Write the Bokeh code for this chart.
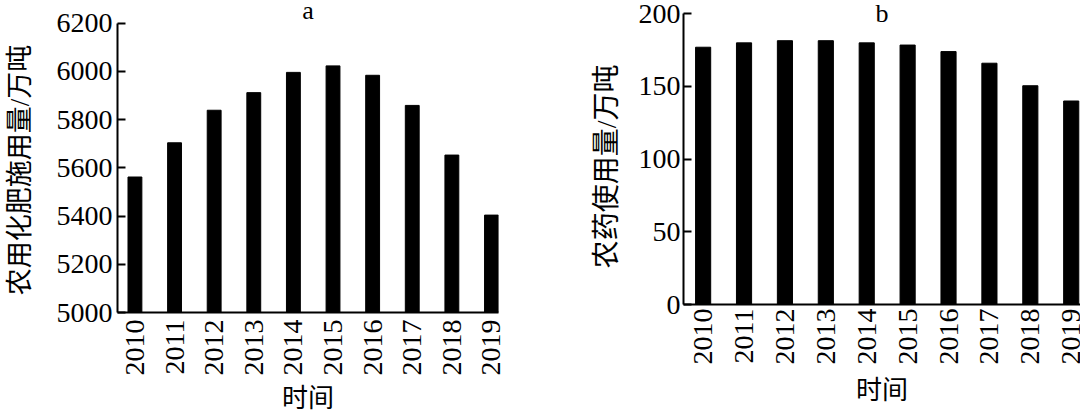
from math import pi
from bokeh.plotting import figure
from bokeh.models import Range1d, FixedTicker, Label
from bokeh.layouts import row
from bokeh.embed import file_html
from bokeh.resources import INLINE

years = [2010, 2011, 2012, 2013, 2014, 2015, 2016, 2017, 2018, 2019]
year_labels = ["2010", "2011", "2012", "2013", "2014", "2015", "2016", "2017", "2018", "2019"]
fertilizer = [5562, 5704, 5839, 5912, 5996, 6023, 5984, 5859, 5653, 5404]
pesticide = [177, 180, 181.5, 181.5, 180, 178.5, 174, 166, 150.5, 140]
fert_ticks = [5000, 5200, 5400, 5600, 5800, 6000, 6200]
pest_ticks = [0, 50, 100, 150, 200]
titles = ["a", "b"]
ylabels = ["农用化肥施用量/万吨", "农药使用量/万吨"]
xlabel = "时间"

SERIF = "Liberation Serif"
MIXED = "Liberation Serif, Noto Sans CJK SC"


def style(p, yticks, ybounds, ylabel, ylab_size, ylab_standoff, ytick_standoff,
          xlab_standoff, xtick_standoff):
    p.xgrid.visible = False
    p.ygrid.visible = False
    p.outline_line_color = None
    p.background_fill_color = "white"
    p.border_fill_color = "white"
    xa = p.xaxis[0]
    xa.ticker = FixedTicker(ticks=years)
    xa.major_label_overrides = {y: l for y, l in zip(years, year_labels)}
    xa.major_label_orientation = pi / 2
    xa.major_tick_out = 0
    xa.major_tick_in = 0
    xa.minor_tick_out = 0
    xa.minor_tick_in = 0
    xa.axis_line_width = 2
    xa.axis_line_color = "black"
    xa.major_label_text_font = SERIF
    xa.major_label_text_font_size = "28px"
    xa.major_label_text_color = "black"
    xa.major_label_standoff = xtick_standoff
    xa.axis_label = xlabel
    xa.axis_label_text_font = MIXED
    xa.axis_label_text_font_size = "26px"
    xa.axis_label_text_font_style = "normal"
    xa.axis_label_text_color = "black"
    xa.axis_label_standoff = xlab_standoff

    ya = p.yaxis[0]
    ya.ticker = FixedTicker(ticks=yticks)
    ya.bounds = ybounds
    ya.major_tick_in = 8
    ya.major_tick_out = 0
    ya.minor_tick_in = 0
    ya.minor_tick_out = 0
    ya.major_tick_line_width = 2
    ya.major_tick_line_color = "black"
    ya.axis_line_width = 2
    ya.axis_line_color = "black"
    ya.major_label_text_font = SERIF
    ya.major_label_text_font_size = "28px"
    ya.major_label_text_color = "black"
    ya.major_label_standoff = ytick_standoff
    # ideographic space keeps the label centred where the original sits
    ya.axis_label = ylabel + "\u3000"
    ya.axis_label_text_font = MIXED
    ya.axis_label_text_font_size = ylab_size
    ya.axis_label_text_font_style = "normal"
    ya.axis_label_text_color = "black"
    ya.axis_label_standoff = ylab_standoff


def add_title(p, x, y, text):
    p.add_layout(Label(x=x, y=y, text=text, text_align="center",
                       text_baseline="middle", text_font=SERIF, text_font_size="26px",
                       text_color="black"))


# Panel a
xa0, xa1 = 2009.56, 2019.177
pa = figure(width=560, height=415, output_backend="svg", toolbar_location=None,
            x_range=Range1d(xa0, xa1), y_range=Range1d(5000, 6294.2),
            min_border_left=117, min_border_right=62, min_border_top=0, min_border_bottom=103)
pa.vbar(x=years, top=fertilizer, bottom=5000, width=0.35, fill_color="black", line_color="black")
style(pa, fert_ticks, (5000, 6200), ylabels[0], "27px", 19, 5, 5, 7)
add_title(pa, (xa0 + xa1) / 2, 6253, titles[0])

# Panel b
xb0, xb1 = 2009.52, 2019.227
pb = figure(width=520, height=407, output_backend="svg", toolbar_location=None,
            x_range=Range1d(xb0, xb1), y_range=Range1d(0, 209.15),
            min_border_left=123, min_border_right=0, min_border_top=0, min_border_bottom=103)
pb.vbar(x=years, top=pesticide, bottom=0, width=0.37, fill_color="black", line_color="black")
style(pb, pest_ticks, (0, 200), ylabels[1], "28px", 14, 3, 8, 4)
add_title(pb, (xb0 + xb1) / 2, 200.2, titles[1])

layout = row(pa, pb)
open("out.html", "w").write(file_html(layout, INLINE))
